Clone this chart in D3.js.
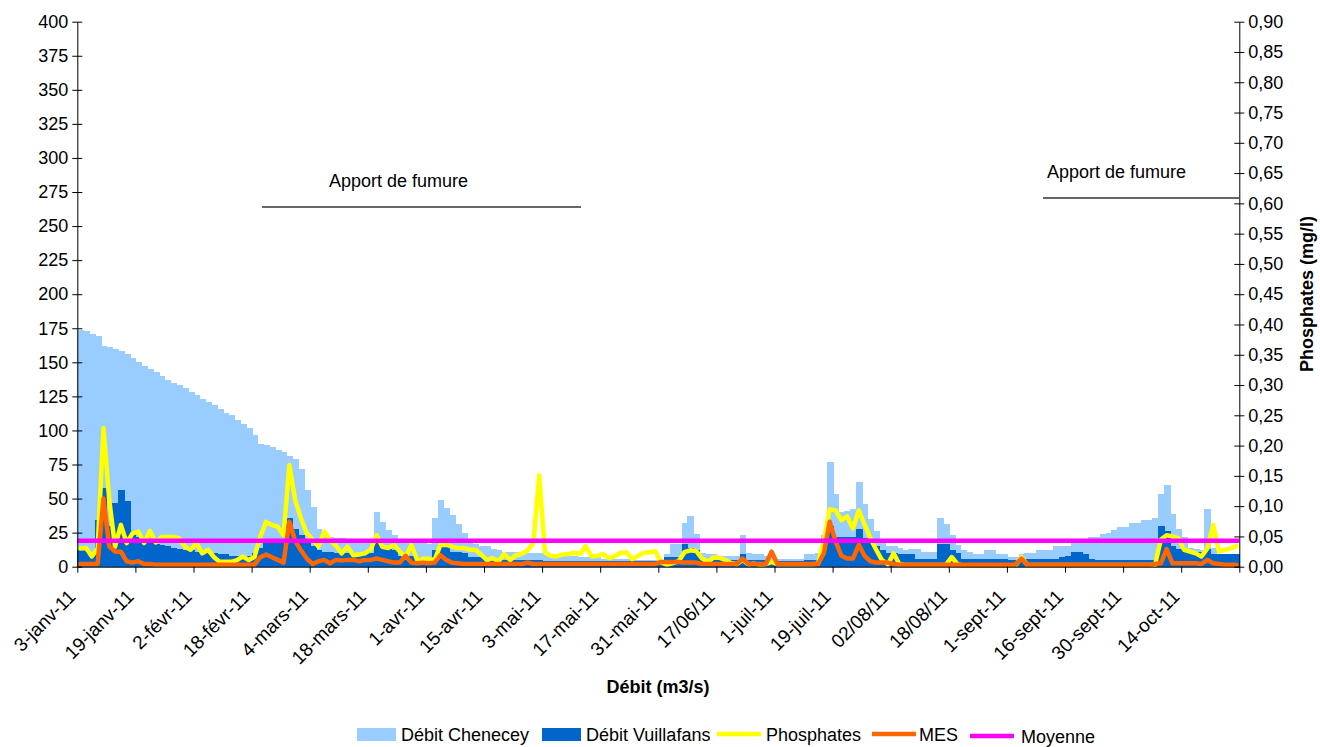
<!DOCTYPE html>
<html>
<head>
<meta charset="utf-8">
<script src="https://cdn.jsdelivr.net/npm/d3@7"></script>
<style>
  body { margin: 0; background: #fff; }
  svg { display: block; }
  text { font-family: "Liberation Sans", Arial, sans-serif; fill: #000; }
</style>
</head>
<body>
<svg id="chart" width="1320" height="747"></svg>
<script>
// Labels shown every 10 samples on the date axis
const tickLabels = ["3-janv-11","19-janv-11","2-févr-11","18-févr-11","4-mars-11","18-mars-11",
  "1-avr-11","15-avr-11","3-mai-11","17-mai-11","31-mai-11","17/06/11","1-juil-11","19-juil-11",
  "02/08/11","18/08/11","1-sept-11","16-sept-11","30-sept-11","14-oct-11"];

// Débit Chenecey (m3/s)
const debitChenecey = [
  174,173,171,169,162,161,160,158,156,153,
  150,147,145,143,140,137,135,133,131,128,
  126,123,121,119,116,113,111,108,105,102,
  97,90,89,88,86,84,81,79,72,56,
  44,28,25,22,21,21,20,20,19,19,
  19,40,33,27,23,20,19,18,18,18,
  17,36,49,43,38,31,25,20,17,15,
  15,13,12,11,11,11,10,10,10,10,
  9,9,8,8,8,8,7,7,7,7,
  6,6,6,6,6,6,5,5,5,5,
  5,9,17,17,32,37,24,10,9,9,
  8,8,8,8,23,10,9,9,8,8,
  6,6,6,6,6,9,9,10,23,77,
  53,40,41,42,62,46,35,26,20,15,
  15,14,12,13,13,11,11,11,36,31,
  23,16,12,11,9,9,12,12,9,9,
  7,7,9,10,10,12,12,12,15,15,
  15,18,18,18,22,22,24,25,27,29,
  29,32,32,34,34,36,53,60,39,28,
  22,14,13,12,42,14,8,8,8,8
];

// Débit Vuillafans (m3/s)
const debitVuillafans = [
  12,12,11,34,58,30,47,56,48,26,
  22,20,18,17,16,15,14,13,12,12,
  11,11,10,10,9,9,8,8,8,8,
  10,14,18,19,20,18,36,28,23,18,
  15,12,11,11,10,10,10,10,10,10,
  10,18,14,13,12,8,8,8,7,7,
  7,12,15,15,11,11,10,7,7,7,
  6,5,5,5,5,5,5,5,5,5,
  4,4,4,4,4,4,4,4,4,4,
  4,4,4,4,4,4,4,4,4,4,
  4,7,7,7,17,14,12,5,5,5,
  5,5,5,5,9,5,5,5,5,5,
  4,4,4,4,4,5,5,5,12,30,
  22,22,22,22,28,21,19,15,12,10,
  10,9,9,9,6,6,6,6,17,17,
  12,10,6,6,6,6,6,6,6,6,
  5,5,6,6,6,6,6,6,6,7,
  8,11,11,9,6,5,5,5,5,5,
  5,5,5,5,5,5,30,26,15,13,
  13,11,11,11,13,9,9,9,9,9
];

// Phosphates (mg/l)
const phosphates = [
  0.030,0.031,0.017,0.030,0.229,0.110,0.033,0.069,0.039,0.055,
  0.058,0.039,0.059,0.040,0.049,0.049,0.049,0.047,0.033,0.028,
  0.039,0.022,0.028,0.016,0.008,0.008,0.008,0.011,0.017,0.011,
  0.016,0.050,0.074,0.069,0.066,0.052,0.168,0.110,0.080,0.055,
  0.045,0.033,0.058,0.044,0.035,0.022,0.033,0.019,0.020,0.022,
  0.028,0.052,0.033,0.031,0.036,0.025,0.016,0.036,0.011,0.013,
  0.013,0.011,0.036,0.036,0.033,0.031,0.031,0.028,0.028,0.020,
  0.011,0.014,0.009,0.021,0.011,0.019,0.021,0.027,0.039,0.151,
  0.023,0.018,0.017,0.020,0.021,0.023,0.021,0.034,0.017,0.018,
  0.021,0.014,0.017,0.023,0.024,0.012,0.018,0.023,0.024,0.025,
  0.007,0.003,0.006,0.009,0.024,0.027,0.026,0.014,0.008,0.015,
  0.015,0.011,0.006,0.004,0.011,0.004,0.005,0.003,0.004,0.008,
  0.004,0.004,0.004,0.004,0.004,0.004,0.004,0.005,0.044,0.095,
  0.093,0.077,0.083,0.063,0.093,0.070,0.047,0.028,0.011,0.004,
  0.022,0.004,0.003,0.003,0.003,0.003,0.003,0.003,0.003,0.003,
  0.016,0.004,0.002,0.002,0.002,0.002,0.002,0.002,0.002,0.002,
  0.002,0.002,0.016,0.003,0.003,0.003,0.003,0.003,0.003,0.003,
  0.003,0.003,0.003,0.003,0.003,0.003,0.003,0.003,0.003,0.003,
  0.003,0.003,0.003,0.003,0.003,0.003,0.045,0.052,0.050,0.047,
  0.028,0.025,0.022,0.017,0.030,0.069,0.025,0.028,0.030,0.034
];

// MES (mg/l), read on the left scale
const mes = [
  2,2,2,2,50,15,11,11,4,3,
  4,2,2,1.5,1.5,1.5,1.5,1.5,1.5,1.5,
  1.5,1.5,1.5,1.5,1.5,1.5,1.5,1.5,1.5,1.5,
  1.5,7,9,7,5,3,33,19,12,6,
  2,4,5,2.5,5,4.5,5,5,4,5,
  5,6,5,4,3,3,8,3,2.5,3,
  2.5,3,8.5,5,3,2.5,2,2,2,2,
  2,2,2,2,2,2,2,3,2,2,
  2,2,2,2,2,2,2,2,2,2,
  2,2,2,2,2,2,2,2,2,2,
  3.5,3.5,3.5,3.5,3,3,3,2,2,2,
  2,2,2,2,6,2,2,2,2,11,
  2,2,2,2,2,2,2,2,10,33,
  19,8,6,6,16,8,4,3,3,3,
  2,1.5,1.5,1.5,1.5,1.5,1.5,1.5,1.5,1.5,
  1.5,1.5,1.5,1.5,1.5,1.5,1.5,1.5,1.5,1.5,
  1.5,1.5,6,1.5,1.5,1.5,1.5,1.5,1.5,1.5,
  1.5,1.5,1.5,1.5,1.5,1.5,1.5,1.5,1.5,1.5,
  1.5,1.5,1.5,1.5,1.5,2,2.5,13,2.5,2.5,
  2.5,2.5,2.5,2,5,2.5,2,1.5,1.5,1.5
];

// Average phosphate level (mg/l)
const moyenne = 0.043;

const leftTicks = d3.range(0, 401, 25);
const rightTicks = d3.range(0, 0.9001, 0.05);

const colors = {
  chenecey: "#99CCFF",
  vuillafans: "#0066CC",
  phosphates: "#FFFF00",
  mes: "#FF6600",
  moyenne: "#FF00FF"
};

const svg = d3.select("#chart");
const plot = { left: 77.3, right: 1239.3, top: 21.7, bottom: 566.7 };
const N = debitChenecey.length;
const idx = d3.range(N);

const x = d3.scaleBand().domain(idx).range([plot.left, plot.right]).padding(0);
const xPos = d3.scaleLinear().domain([0, N]).range([plot.left, plot.right]);
const yL = d3.scaleLinear().domain([0, 400]).range([plot.bottom, plot.top]);
const yR = d3.scaleLinear().domain([0, 0.9]).range([plot.bottom, plot.top]);

// Flow bars, Chenecey behind Vuillafans
const bars = svg.append("g").attr("shape-rendering", "crispEdges");
bars.selectAll("rect.che").data(idx).join("rect")
  .attr("x", i => x(i)).attr("width", x.bandwidth() + 1)
  .attr("y", i => yL(debitChenecey[i])).attr("height", i => yL(0) - yL(debitChenecey[i]))
  .attr("fill", colors.chenecey);
bars.selectAll("rect.vui").data(idx).join("rect")
  .attr("x", i => x(i)).attr("width", x.bandwidth() + 1)
  .attr("y", i => yL(debitVuillafans[i])).attr("height", i => yL(0) - yL(debitVuillafans[i]))
  .attr("fill", colors.vuillafans);

const cx = i => x(i) + x.bandwidth() / 2;

svg.append("path").datum(idx)
  .attr("fill", "none").attr("stroke", colors.phosphates).attr("stroke-width", 4.5)
  .attr("stroke-linejoin", "round").attr("stroke-linecap", "round")
  .attr("d", d3.line().x(cx).y(i => yR(phosphates[i])));

svg.append("path").datum(idx)
  .attr("fill", "none").attr("stroke", colors.mes).attr("stroke-width", 4.5)
  .attr("stroke-linejoin", "round").attr("stroke-linecap", "round")
  .attr("d", d3.line().x(cx).y(i => yL(mes[i])));

svg.append("line")
  .attr("x1", plot.left).attr("x2", plot.right)
  .attr("y1", yR(moyenne)).attr("y2", yR(moyenne))
  .attr("stroke", colors.moyenne).attr("stroke-width", 4.5);

// Axes
const fmtR = d => d3.format(".2f")(d).replace(".", ",");

const gL = svg.append("g").attr("transform", `translate(${plot.left},0)`)
  .call(d3.axisLeft(yL).tickValues(leftTicks).tickSize(5).tickPadding(4).tickSizeOuter(0));
gL.selectAll(".tick line").attr("x2", 5).attr("x1", -5);

const gR = svg.append("g").attr("transform", `translate(${plot.right},0)`)
  .call(d3.axisRight(yR).tickValues(rightTicks).tickFormat(fmtR).tickSize(5).tickPadding(4).tickSizeOuter(0));
gR.selectAll(".tick line").attr("x1", -5).attr("x2", 5);

const gB = svg.append("g").attr("transform", `translate(0,${plot.bottom})`)
  .call(d3.axisBottom(xPos).tickValues(d3.range(0, N + 1, 10))
    .tickFormat((d, i) => tickLabels[i] || "").tickSize(6).tickSizeOuter(0));

[gL, gR, gB].forEach(g => {
  g.selectAll("path.domain").attr("stroke", "#000").attr("stroke-width", 1);
  g.selectAll(".tick line").attr("stroke", "#000");
  g.selectAll("text").attr("font-size", 18).attr("fill", "#000")
    .style("font-family", '"Liberation Sans", Arial, sans-serif');
});

gB.selectAll(".tick text")
  .attr("y", 0).attr("dy", 0).attr("x", 0)
  .attr("font-size", 19)
  .attr("text-anchor", "end")
  .attr("transform", "translate(-1,31) rotate(-45)");

// Axis titles
svg.append("text").attr("x", 658).attr("y", 693)
  .attr("text-anchor", "middle").attr("font-size", 18).attr("font-weight", "bold")
  .text("Débit (m3/s)");
svg.append("text").attr("transform", "translate(1313,294) rotate(-90)")
  .attr("text-anchor", "middle").attr("font-size", 18).attr("font-weight", "bold")
  .text("Phosphates (mg/l)");

// "Apport de fumure" annotations
const annot = svg.append("g");
annot.append("line").attr("x1", 262).attr("x2", 581).attr("y1", 207).attr("y2", 207)
  .attr("stroke", "#333").attr("stroke-width", 1.5);
annot.append("text").attr("x", 329).attr("y", 187).attr("font-size", 18).text("Apport de fumure");
annot.append("line").attr("x1", 1043).attr("x2", plot.right).attr("y1", 198).attr("y2", 198)
  .attr("stroke", "#333").attr("stroke-width", 1.5);
annot.append("text").attr("x", 1047).attr("y", 178).attr("font-size", 18).text("Apport de fumure");

// Legend
const legend = svg.append("g");
const legendItems = [
  { label: "Débit Chenecey", color: colors.chenecey, type: "rect", x: 357, tx: 401, y: 735 },
  { label: "Débit Vuillafans", color: colors.vuillafans, type: "rect", x: 542, tx: 586, y: 735 },
  { label: "Phosphates", color: colors.phosphates, type: "line", x: 717, tx: 766, y: 735 },
  { label: "MES", color: colors.mes, type: "line", x: 872, tx: 919, y: 735 },
  { label: "Moyenne", color: colors.moyenne, type: "line", x: 970, tx: 1021, y: 737 }
];
legendItems.forEach(d => {
  if (d.type === "rect") {
    legend.append("rect").attr("x", d.x).attr("y", d.y - 7).attr("width", 39).attr("height", 13)
      .attr("fill", d.color);
  } else {
    legend.append("line").attr("x1", d.x).attr("x2", d.x + 44).attr("y1", d.y - 1).attr("y2", d.y - 1)
      .attr("stroke", d.color).attr("stroke-width", 4.5);
  }
  legend.append("text").attr("x", d.tx).attr("y", d.y + 6).attr("font-size", 18).text(d.label);
});
</script>
</body>
</html>
